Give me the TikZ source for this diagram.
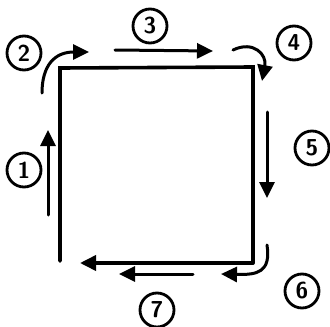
\documentclass[tikz,border=0pt]{standalone}
\usepackage{tikz}
\usetikzlibrary{arrows.meta}

\tikzset{
  edge/.style={line width=3.6pt, line cap=round},
  flow/.style={line width=3pt, line cap=round, -{Triangle[length=16pt, width=15pt]}},
  num/.style={draw, circle, line width=2.8pt, minimum size=34pt, inner sep=0pt,
              font=\fontsize{23}{23}\selectfont\sffamily\bfseries}
}

\begin{document}
\begin{tikzpicture}[x=1pt, y=-1pt]
  \useasboundingbox (0,0) rectangle (330,327);

  % corners of the square
  \coordinate (tl) at (60,68);
  \coordinate (tr) at (253,67);
  \coordinate (br) at (253,263);
  \coordinate (bl) at (60,261);
  \coordinate (bend) at (80,263);

  \draw[edge] (bl) -- (tl) -- (tr) -- (br);
  \draw[edge, -{Triangle[length=16pt, width=15pt]}] (br) -- (bend);

  % free ends of the flow arrows
  \coordinate (a1) at (48,215);  \coordinate (b1) at (48,130);
  \coordinate (a2) at (42,93);   \coordinate (b2) at (89,52);
  \coordinate (a3) at (115,50);  \coordinate (b3) at (213,51);
  \coordinate (a4) at (233,50);  \coordinate (b4) at (262,81);
  \coordinate (a5) at (267,112); \coordinate (b5) at (267,198);
  \coordinate (a6) at (267,245); \coordinate (b6) at (221,274);
  \coordinate (a7) at (193,274); \coordinate (b7) at (119,274);

  \draw[flow] (a1) -- (b1);
  \draw[flow] (a2) .. controls (42,65) and (55,52) .. (b2);
  \draw[flow] (a3) -- (b3);
  \draw[flow] (a4) .. controls (254,40) and (267,55) .. (b4);
  \draw[flow] (a5) -- (b5);
  \draw[flow] (a6) .. controls (271,272) and (258,275) .. (b6);
  \draw[flow] (a7) -- (b7);

  % step numbers
  \node[num] (n1) at (24,170) {1};
  \node[num] (n2) at (24,53)  {2};
  \node[num] (n3) at (150,26) {3};
  \node[num] (n4) at (294,43) {4};
  \node[num] (n5) at (312,148) {5};
  \node[num] (n6) at (302,291) {6};
  \node[num] (n7) at (157,310) {7};
\end{tikzpicture}
\end{document}
